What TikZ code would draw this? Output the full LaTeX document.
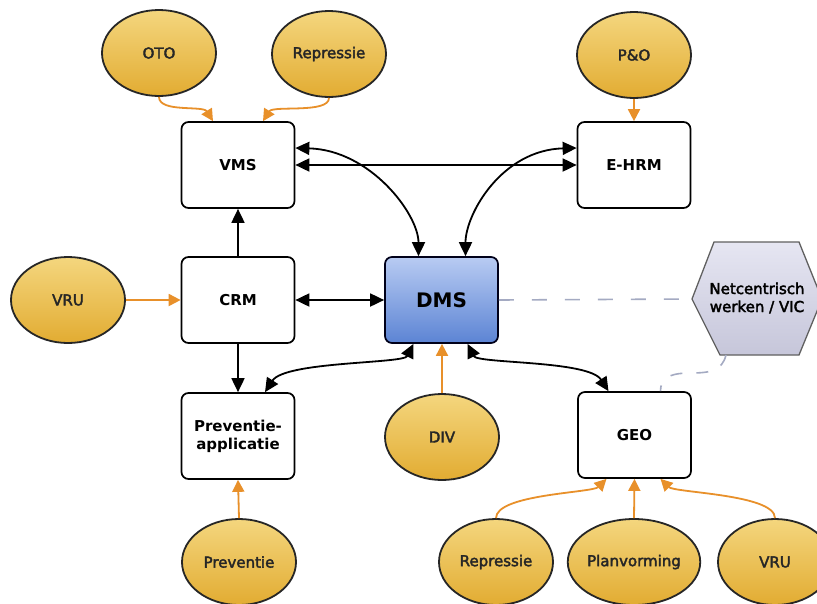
\documentclass[tikz,border=0pt]{standalone}
\usepackage{fontspec}
\setmainfont{DejaVu Sans}
\newfontfamily\ovalfont[FakeBold=2.5]{DejaVu Sans}
\usetikzlibrary{shapes.geometric,arrows.meta}
\definecolor{goldA}{HTML}{F4D67E}
\definecolor{goldB}{HTML}{E2AC32}
\definecolor{orng}{HTML}{E8902A}
\definecolor{blueA}{HTML}{B8CBF2}
\definecolor{blueB}{HTML}{5C84D4}
\definecolor{hexA}{HTML}{E6E6F2}
\definecolor{hexB}{HTML}{C6C6DA}
\definecolor{dashc}{HTML}{A4AAC2}
\begin{document}
\begin{tikzpicture}[x=1pt,y=-1pt,
 oval/.style={ellipse, draw=black!85, line width=1.8pt, top color=goldA, bottom color=goldB,
   minimum width=114pt, minimum height=86pt, inner sep=0pt,
   font=\ovalfont\fontsize{15}{18}\selectfont, text=black!85},
 app/.style={rectangle, rounded corners=7pt, draw=black, line width=1.7pt, fill=white,
   minimum width=113pt, minimum height=86pt, inner sep=0pt,
   font=\bfseries\fontsize{15}{18}\selectfont, align=center},
 feed/.style={draw=orng, line width=1.8pt, -{Triangle[length=12pt,width=12pt]}},
 link/.style={draw=black, line width=1.8pt, {Triangle[length=14pt,width=13pt]}-{Triangle[length=14pt,width=13pt]}},
 one/.style={draw=black, line width=1.8pt, -{Triangle[length=14pt,width=13pt]}},
 grey dash/.style={draw=dashc, line width=1.6pt, dash pattern=on 15pt off 18pt},
]
\useasboundingbox (0,0) rectangle (817,603);
\fill[white] (0,0) rectangle (817,603);

% hexagon
\draw[draw=gray!75!black, line width=1.3pt, top color=hexA, bottom color=hexB]
  (692,299) -- (714,242) -- (799,242) -- (822,299) -- (799,355) -- (720,355) -- cycle;
\node[align=center, font=\ovalfont\fontsize{15}{18}\selectfont] (net) at (757,298) {Netcentrisch\\werken / VIC};
\coordinate (hexL) at (692,299);
\coordinate (hexBot) at (726,355);

% boxes
\node[app] (vms) at (238,165) {VMS};
\node[app] (crm) at (238,300) {CRM};
\node[app] (prev) at (238,436) {Preventie-\\applicatie};
\node[app, top color=blueA, bottom color=blueB, draw=black!90!blue,
  font=\bfseries\fontsize{20}{24}\selectfont] (dms) at (441.5,300) {DMS};
\node[app] (ehrm) at (634,165) {E-HRM};
\node[app] (geo) at (634.5,435) {GEO};

% ovals
\node[oval] (oto) at (159,53) {OTO};
\node[oval] (repA) at (329,54) {Repressie};
\node[oval] (po) at (634,55) {P\&O};
\node[oval] (vruA) at (68,300) {VRU};
\node[oval] (div) at (442,437) {DIV};
\node[oval] (prevo) at (239,562) {Preventie};
\node[oval] (repB) at (496,562) {Repressie};
\node[oval] (plan) at (634,562) {Planvorming};
\node[oval] (vruB) at (775,562) {VRU};

% orange feeds
\draw[feed] (oto.south) .. controls +(0,16) and +(-10,-16) .. ([xshift=-25pt]vms.north);
\draw[feed] (repA.south) .. controls +(0,16) and +(10,-16) .. ([xshift=25pt]vms.north);
\draw[feed] (po.south) -- (ehrm.north);
\draw[feed] (vruA.east) -- (crm.west);
\draw[feed] (prevo.north) -- (prev.south);
\draw[feed] (div.north) -- (div.north |- dms.south);
\draw[feed] (repB.north) .. controls +(0,-24) and +(-14,14) .. ([xshift=-28pt]geo.south);
\draw[feed] (plan.north) -- (geo.south);
\draw[feed] (vruB.north) .. controls +(0,-24) and +(14,14) .. ([xshift=26pt]geo.south);

% black links
\draw[link] (vms.east) -- (ehrm.west);
\draw[link] ([yshift=17pt]vms.east) .. controls +(75,2) and +(0,-42) .. ([xshift=-23pt]dms.north);
\draw[link] ([yshift=17pt]ehrm.west) .. controls +(-75,2) and +(0,-42) .. ([xshift=24pt]dms.north);
\draw[one] (crm.north) -- (vms.south);
\draw[link] (crm.east) -- (dms.west);
\draw[one] (crm.south) -- (prev.north);
\draw[link] ([xshift=-28pt]dms.south) .. controls +(-10,20) and +(20,-31) .. ([xshift=27pt]prev.north);
\draw[link] ([xshift=26pt]dms.south) .. controls +(10,20) and +(-20,-31) .. ([xshift=-26pt]geo.north);

% dashed relations
\draw[grey dash] (dms.east) -- (hexL);
\draw[grey dash, dash pattern=on 12pt off 14pt] (hexBot) .. controls +(-4,16) and +(20,0) .. (690,373)
   .. controls +(-22,0) and +(0,-12) .. ([xshift=26pt]geo.north);
\end{tikzpicture}
\end{document}
